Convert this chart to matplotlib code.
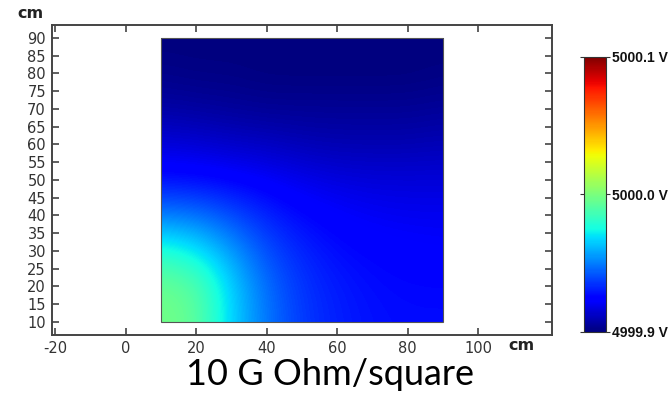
import numpy as np
import matplotlib
matplotlib.use("Agg")
import matplotlib.pyplot as plt
from matplotlib.patches import Rectangle

plt.rcParams["axes.unicode_minus"] = False

# ── Data: potential on the square sheet ─────────────────────────────────────
x_nodes = [10, 20, 30, 40, 50, 60, 70, 80, 90]          # cm
y_nodes = [10, 20, 30, 40, 50, 60, 70, 80, 90]          # cm
# potential above 4999.9 V in mV, rows from y=10 (bottom) to y=90 (top)
dv_mV = [
    [98, 94, 66, 48, 36, 31, 28, 27, 27],
    [96, 92, 66, 46, 35, 30, 27, 26, 26],
    [80, 72, 56, 40, 32, 27, 25, 24, 23],
    [50, 48, 40, 32, 26, 23, 21, 20, 20],
    [28, 27, 25, 22, 19, 17, 16, 16, 16],
    [16, 15, 13, 12, 10,  9,  9,  9, 10],
    [ 7,  6,  5,  4,  4,  4,  4,  4,  5],
    [ 2,  1,  1,  0,  0,  0,  0,  0,  1],
    [ 0,  0,  0,  0,  0,  0,  0,  0,  0],
]
v_min, v_max = 4999.9, 5000.1
cbar_ticks = [4999.9, 5000.0, 5000.1]
cbar_labels = ["4999.9 V", "5000.0 V", "5000.1 V"]
x_ticks = [-20, 0, 20, 40, 60, 80, 100]
y_ticks = [10, 15, 20, 25, 30, 35, 40, 45, 50, 55, 60, 65, 70, 75, 80, 85, 90]
title = "10 G Ohm/square"

W, H = 672, 397
fig = plt.figure(figsize=(W / 100, H / 100), dpi=100)
fig.patch.set_facecolor("white")

# axes placed by pixel box
ax = fig.add_axes([51.5 / W, (H - 335) / H, (551.7 - 51.5) / W, (335 - 25) / H])
ax.set_xlim(-21.0, 120.8)
ax.set_ylim(6.25, 93.67)

field = v_min + np.array(dv_mV) / 1000.0
dx = x_nodes[1] - x_nodes[0]
dy = y_nodes[1] - y_nodes[0]
img = ax.imshow(field, origin="lower", cmap="jet", vmin=v_min, vmax=v_max,
                interpolation="bicubic", aspect="auto",
                extent=[x_nodes[0] - dx / 2, x_nodes[-1] + dx / 2,
                        y_nodes[0] - dy / 2, y_nodes[-1] + dy / 2])
rect = Rectangle((x_nodes[0], y_nodes[0]), x_nodes[-1] - x_nodes[0],
                 y_nodes[-1] - y_nodes[0], facecolor="none",
                 edgecolor="#555555", linewidth=0.8, zorder=3)
ax.add_patch(rect)
img.set_clip_path(rect)

ax.set_xticks(x_ticks)
ax.set_yticks(y_ticks)
ax.tick_params(direction="in", length=5, width=1.2, color="#444444",
               top=True, right=True, labelsize=10.5, labelcolor="#333333",
               pad=4)
for s in ax.spines.values():
    s.set_color("#444444")
    s.set_linewidth(1.4)

# axis unit labels
fig.text(30 / W, 1 - 13 / H, "cm", ha="center", va="center",
         fontsize=11.5, fontweight="bold", color="#222222")
fig.text(521 / W, 1 - 345 / H, "cm", ha="center", va="center",
         fontsize=11.5, fontweight="bold", color="#222222")

# colorbar
cax = fig.add_axes([583.5 / W, (H - 331.7) / H, 22.5 / W, (331.7 - 56.7) / H])
cb = fig.colorbar(img, cax=cax, ticks=cbar_ticks)
cb.ax.set_yticklabels(cbar_labels)
cb.outline.set_edgecolor("#333333")
cb.outline.set_linewidth(0.8)
cax.tick_params(left=True, right=True, direction="out", length=3, width=0.8,
                color="#333333", pad=1)
for t in cax.get_yticklabels():
    t.set_fontfamily("Liberation Sans")
    t.set_fontweight("bold")
    t.set_fontsize(10)
    t.set_color("#111111")

# caption under the plot
fig.text(329.5 / W, 1 - 385 / H, title, ha="center", va="baseline",
         fontsize=26, family="Lato", color="black")

fig.savefig("out.png", dpi=100)
